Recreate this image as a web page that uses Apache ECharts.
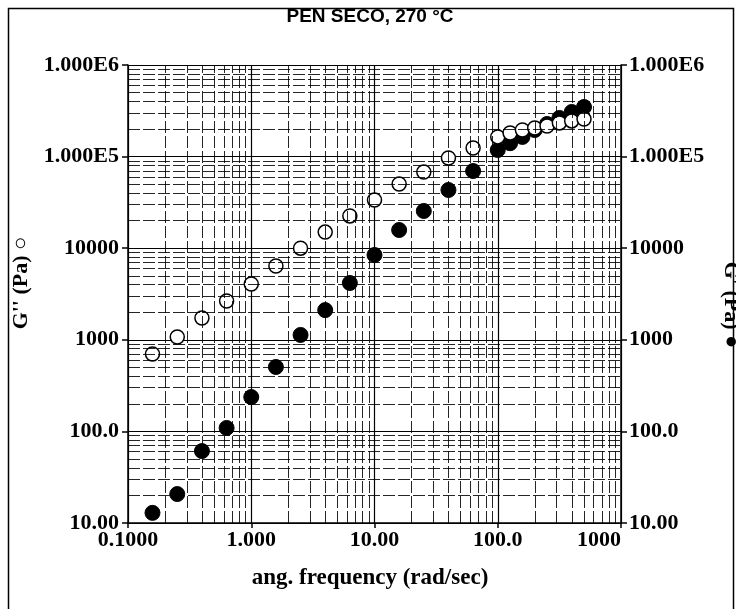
<!DOCTYPE html>
<html>
<head>
<meta charset="utf-8">
<script src="https://cdn.jsdelivr.net/npm/echarts@6/dist/echarts.min.js"></script>
<style>
  html, body { margin: 0; padding: 0; background: #fff; }
  #chart { width: 736px; height: 609px; }
</style>
</head>
<body>
<div id="chart"></div>
<script>
// Angular frequency sweep (rad/s)
const freq = [0.158, 0.251, 0.398, 0.631, 1.0, 1.585, 2.512, 3.981, 6.31, 10, 15.85, 25.12, 39.81, 63.1,
              100, 125.9, 158.5, 199.5, 251.2, 316.2, 398.1, 501.2];
// Storage modulus G' (Pa), filled markers
const gStorage = [12.9, 20.7, 61, 109, 237, 505, 1130, 2110, 4170, 8430, 15800, 25500, 43200, 69600,
                  118000, 140000, 164000, 195000, 227000, 264000, 307000, 348000];
// Loss modulus G'' (Pa), open markers
const gLoss = [700, 1073, 1730, 2650, 4070, 6390, 10000, 15000, 22500, 33600, 50200, 67900, 96600, 124000,
               164000, 181000, 195000, 205000, 216000, 233000, 245000, 257000];

// Tick labels as printed by the rheometer software
const xTickValues = [0.1, 1, 10, 100, 1000];
const xTickLabels = ['0.1000', '1.000', '10.00', '100.0', '1000'];
const yTickValues = [10, 100, 1000, 10000, 100000, 1000000];
const yTickLabels = ['10.00', '100.0', '1000', '10000', '1.000E5', '1.000E6'];

const titleText = 'PEN SECO, 270 °C';
const xName = 'ang. frequency (rad/sec)';
const yNameLeft = "G'' (Pa) \u25CB";
const yNameRight = "G' (Pa) \u25CF";

const SERIF = '"Liberation Serif", "DejaVu Serif", serif';

function labelFor(values, labels) {
  return function (v) {
    for (let i = 0; i < values.length; i++) {
      if (Math.abs(Math.log10(v) - Math.log10(values[i])) < 1e-6) return labels[i];
    }
    return '';
  };
}

// Minor grid positions 2..9 within each decade
function minorSteps(lo, hi) {
  const out = [];
  for (let d = lo; d < hi; d *= 10) {
    for (let k = 2; k <= 9; k++) out.push(+(k * d).toPrecision(6));
  }
  return out;
}
const xMinor = minorSteps(0.1, 1000);
const yMinor = minorSteps(10, 1000000);

const chart = echarts.init(document.getElementById('chart'), null, { renderer: 'canvas' });

const axisLabelStyle = { color: '#000', fontFamily: SERIF, fontWeight: 'bold', fontSize: 22 };

const option = {
  animation: false,
  backgroundColor: '#fff',
  grid: { left: 128, right: 115, top: 65, bottom: 86, containLabel: false },
  xAxis: {
    type: 'log', logBase: 10, min: 0.1, max: 1000,
    axisLine: { show: true, lineStyle: { color: '#000', width: 1.5 } },
    axisTick: { show: true, inside: false, length: 5, lineStyle: { color: '#000', width: 1.5 } },
    axisLabel: Object.assign({ margin: 6, formatter: labelFor(xTickValues, xTickLabels), alignMaxLabel: 'right' }, axisLabelStyle),
    splitLine: { show: true, lineStyle: { color: '#000', width: 1.2 } }
  },
  yAxis: [
    {
      type: 'log', logBase: 10, min: 10, max: 1000000, position: 'left',
      axisLine: { show: true, lineStyle: { color: '#000', width: 1.5 } },
      axisTick: { show: true, inside: false, length: 6, lineStyle: { color: '#000', width: 1.5 } },
      axisLabel: Object.assign({ margin: 9, formatter: labelFor(yTickValues, yTickLabels) }, axisLabelStyle),
      splitLine: { show: true, lineStyle: { color: '#000', width: 1.2 } }
    },
    {
      type: 'log', logBase: 10, min: 10, max: 1000000, position: 'right',
      axisLine: { show: true, lineStyle: { color: '#000', width: 1.5 } },
      axisTick: { show: true, inside: false, length: 6, lineStyle: { color: '#000', width: 1.5 } },
      axisLabel: Object.assign({ margin: 8, formatter: labelFor(yTickValues, yTickLabels) }, axisLabelStyle),
      splitLine: { show: false }
    }
  ],
  graphic: [
    { type: 'rect', shape: { x: 8.5, y: 8.5, width: 725, height: 610 }, style: { fill: null, stroke: '#000', lineWidth: 1.5 }, silent: true },
    { type: 'text', x: 370, y: 17, style: { text: titleText, font: 'bold 19px "Liberation Sans", Arial, sans-serif', fill: '#000', align: 'center', verticalAlign: 'middle' } },
    { type: 'text', x: 370, y: 578, style: { text: xName, font: 'bold 23px ' + SERIF, fill: '#000', align: 'center', verticalAlign: 'middle' } },
    { type: 'text', x: 21, y: 283, rotation: Math.PI / 2, style: { text: yNameLeft, font: 'bold 22px ' + SERIF, fill: '#000', align: 'center', verticalAlign: 'middle' } },
    { type: 'text', x: 731, y: 305, rotation: -Math.PI / 2, style: { text: yNameRight, font: 'bold 22px ' + SERIF, fill: '#000', align: 'center', verticalAlign: 'middle' } }
  ],
  series: [
    {
      // minor grid lines drawn through the axis scales
      type: 'line', data: [], silent: true, symbol: 'none',
      markLine: {
        silent: true, symbol: ['none', 'none'], animation: false, label: { show: false },
        lineStyle: { color: '#000', width: 1, type: [12, 3], opacity: 0.85 },
        data: xMinor.map(v => ({ xAxis: v })).concat(yMinor.map(v => ({ yAxis: v })))
      }
    },
    {
      name: "G'", type: 'scatter', symbol: 'circle', symbolSize: 15,
      itemStyle: { color: '#000', borderColor: '#000', borderWidth: 1, opacity: 1 },
      data: freq.map((f, i) => [f, gStorage[i]]), z: 3
    },
    {
      name: "G''", type: 'scatter', symbol: 'circle', symbolSize: 14,
      itemStyle: { color: '#fff', borderColor: '#000', borderWidth: 1.5, opacity: 1 },
      data: freq.map((f, i) => [f, gLoss[i]]), z: 4
    }
  ]
};

chart.setOption(option);
</script>
</body>
</html>
